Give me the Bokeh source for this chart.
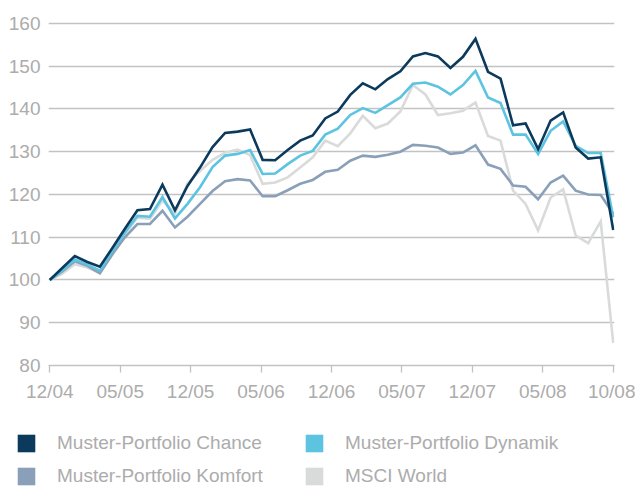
from bokeh.plotting import figure
from bokeh.models import Range1d, FixedTicker, Legend, LegendItem
from bokeh.embed import file_html
from bokeh.resources import INLINE

tick_labels = ["12/04", "05/05", "12/05", "05/06", "12/06", "05/07", "12/07", "05/08", "10/08"]

chance = [100, 102.8, 105.6, 104.2, 103.1, 107.5, 112.0, 116.3, 116.6, 122.3, 116.3, 122.0, 126.3, 131.1,
          134.4, 134.7, 135.2, 128.1, 128.0, 130.4, 132.6, 133.8, 137.8, 139.4, 143.3, 146.0, 144.6, 147.0,
          148.8, 152.3, 153.1, 152.3, 149.6, 152.2, 156.4, 148.7, 147.1, 136.2, 136.6, 130.6, 137.3, 139.2,
          131.0, 128.4, 128.7, 111.7]
dynamik = [100, 102.2, 104.8, 103.6, 102.2, 106.8, 111.1, 115.0, 114.8, 119.4, 114.4, 117.8, 121.7, 126.4,
           129.1, 129.5, 130.4, 124.8, 124.9, 127.1, 129.1, 130.2, 134.0, 135.4, 138.6, 140.2, 139.1, 140.9,
           142.7, 145.9, 146.2, 145.2, 143.4, 145.6, 148.9, 142.7, 141.4, 134.0, 134.0, 129.5, 134.9, 137.1,
           131.4, 129.7, 129.7, 114.7]
komfort = [100, 102.0, 104.4, 103.3, 101.6, 106.0, 110.0, 113.1, 113.1, 116.2, 112.3, 114.8, 117.8, 120.8,
           123.1, 123.6, 123.3, 119.6, 119.6, 121.0, 122.5, 123.4, 125.3, 125.8, 127.9, 129.1, 128.8, 129.3,
           130.0, 131.6, 131.4, 131.0, 129.5, 129.8, 131.5, 127.0, 126.0, 122.1, 121.8, 118.9, 122.8, 124.4,
           120.9, 120.0, 119.9, 115.5]
msci = [100, 101.5, 103.7, 102.9, 101.6, 106.0, 110.7, 114.6, 114.3, 118.6, 115.5, 122.6, 125.5, 128.1,
        129.8, 130.5, 129.2, 122.5, 122.8, 124.0, 126.3, 128.7, 132.6, 131.3, 134.3, 138.4, 135.5, 136.6,
        139.4, 145.6, 143.4, 138.6, 139.0, 139.6, 141.5, 133.7, 132.6, 120.9, 117.8, 111.6, 119.3, 121.2,
        110.4, 108.6, 113.7, 85.3]

names = ["Muster-Portfolio Chance", "Muster-Portfolio Dynamik", "Muster-Portfolio Komfort", "MSCI World"]
colors = ["#0c3a5c", "#5cc3e0", "#8aa0b9", "#d9dada"]

n = len(chance)
nt = len(tick_labels) - 1
xs = [i * nt / (n - 1) for i in range(n)]

TEXT = "#acacac"
GRID = "#c2c2c2"
FONT = "Liberation Sans"
FS = "19px"

p = figure(width=635, height=420, output_backend="svg", toolbar_location=None,
           x_range=Range1d(-0.018, 8.018), y_range=Range1d(80, 160.7),
           min_border_left=48, min_border_right=21, min_border_top=20, min_border_bottom=55)
p.outline_line_color = None
p.background_fill_color = "white"
p.border_fill_color = "white"

series = [chance, dynamik, komfort, msci]
for idx in [3, 2, 1, 0]:
    p.line(xs, series[idx], line_color=colors[idx], line_width=2.6, line_join="miter")

p.xaxis.ticker = FixedTicker(ticks=list(range(len(tick_labels))))
p.xaxis.major_label_overrides = {i: lab for i, lab in enumerate(tick_labels)}
p.xaxis.axis_line_color = GRID
p.xaxis.axis_line_width = 1.3
p.xaxis.major_tick_line_color = GRID
p.xaxis.major_tick_line_width = 1.3
p.xaxis.major_tick_out = 7
p.xaxis.major_tick_in = 0
p.xaxis.minor_tick_line_color = None
p.xaxis.major_label_text_color = TEXT
p.xaxis.major_label_text_font = FONT
p.xaxis.major_label_text_font_size = FS
p.xaxis.major_label_standoff = 8
p.xgrid.grid_line_color = None

p.yaxis.ticker = FixedTicker(ticks=[80, 90, 100, 110, 120, 130, 140, 150, 160])
p.yaxis.axis_line_color = None
p.yaxis.major_tick_line_color = None
p.yaxis.minor_tick_line_color = None
p.yaxis.major_tick_out = 0
p.yaxis.major_tick_in = 0
p.yaxis.major_label_text_color = TEXT
p.yaxis.major_label_text_font = FONT
p.yaxis.major_label_text_font_size = FS
p.yaxis.major_label_standoff = 8
p.ygrid.grid_line_color = GRID
p.ygrid.grid_line_width = 1.3

# separate legend figure (own root, so its frame spans the full width)
lg = figure(width=635, height=67, output_backend="svg", toolbar_location=None,
            x_axis_type=None, y_axis_type=None,
            x_range=Range1d(0, 1), y_range=Range1d(0, 1),
            min_border_left=0, min_border_right=0, min_border_top=0, min_border_bottom=0)
lg.outline_line_color = None
lg.grid.visible = False
lg.background_fill_color = "white"
lg.border_fill_color = "white"

items = []
for name, col in zip(names, colors):
    # swatch source placed outside the visible range; only its legend square shows
    r = lg.quad(left=[5], right=[6], top=[6], bottom=[5], fill_color=col, line_color=None)
    items.append(LegendItem(label=name, renderers=[r]))

legend = Legend(items=items, orientation="horizontal", ncols=2,
                location=(15, 0),
                glyph_width=22, glyph_height=22, label_standoff=20,
                label_width=235, label_height=22, spacing=11,
                padding=0, margin=0,
                label_text_color=TEXT, label_text_font=FONT, label_text_font_size=FS,
                border_line_color=None, background_fill_alpha=0)
lg.add_layout(legend)

open("out.html", "w").write(file_html([p, lg], INLINE))
